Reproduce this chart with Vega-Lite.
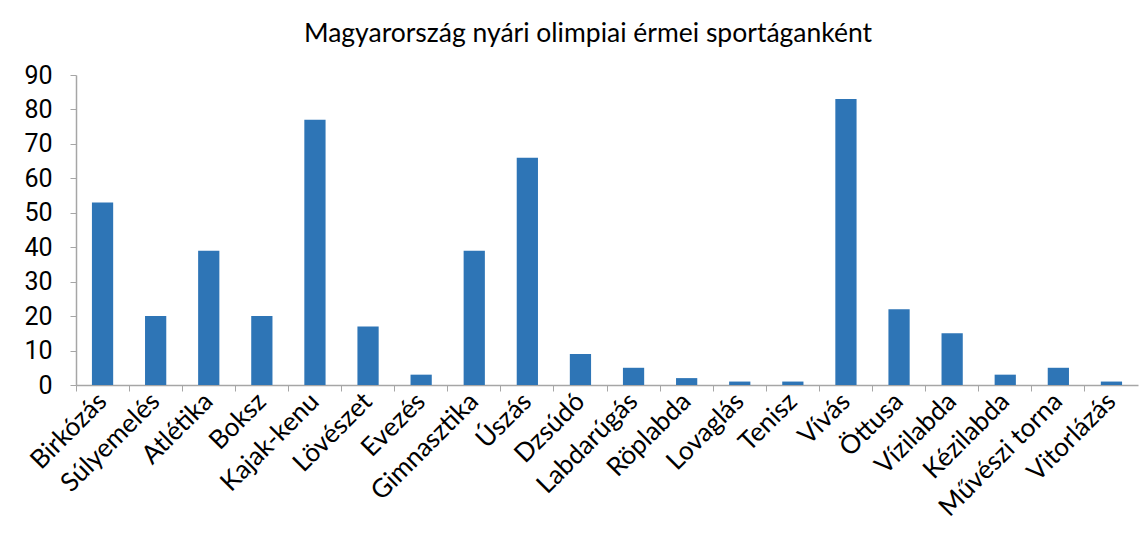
{
  "$schema": "https://vega.github.io/schema/vega-lite/v6.json",
  "autosize": "none",
  "width": 1062,
  "height": 310,
  "padding": {"left": 76, "top": 75, "right": 1, "bottom": 157},
  "background": "white",
  "title": {
    "text": "Magyarország nyári olimpiai érmei sportáganként",
    "font": "Lato",
    "fontSize": 26.5,
    "fontWeight": "normal",
    "color": "#000000",
    "anchor": "middle",
    "dx": -19,
    "offset": 16
  },
  "data": {
    "values": [
      {"sport": "Birkózás", "ermek": 53},
      {"sport": "Súlyemelés", "ermek": 20},
      {"sport": "Atlétika", "ermek": 39},
      {"sport": "Boksz", "ermek": 20},
      {"sport": "Kajak-kenu", "ermek": 77},
      {"sport": "Lövészet", "ermek": 17},
      {"sport": "Evezés", "ermek": 3},
      {"sport": "Gimnasztika", "ermek": 39},
      {"sport": "Úszás", "ermek": 66},
      {"sport": "Dzsúdó", "ermek": 9},
      {"sport": "Labdarúgás", "ermek": 5},
      {"sport": "Röplabda", "ermek": 2},
      {"sport": "Lovaglás", "ermek": 1},
      {"sport": "Tenisz", "ermek": 1},
      {"sport": "Vívás", "ermek": 83},
      {"sport": "Öttusa", "ermek": 22},
      {"sport": "Vízilabda", "ermek": 15},
      {"sport": "Kézilabda", "ermek": 3},
      {"sport": "Művészi torna", "ermek": 5},
      {"sport": "Vitorlázás", "ermek": 1}
    ]
  },
  "layer": [
    {
      "mark": {"type": "bar", "color": "#2E75B6"},
      "encoding": {
        "x": {
          "field": "sport",
          "type": "nominal",
          "sort": null,
          "scale": {"paddingInner": 0.6, "paddingOuter": 0.3},
          "axis": {
            "title": null,
            "orient": "bottom",
            "labelAngle": -45,
            "labelAlign": "right",
            "labelBaseline": "middle",
            "labelFont": "Lato",
            "labelFontSize": 26,
            "labelColor": "#000000",
            "labelPadding": 12,
            "labelOverlap": false,
            "labelLimit": 400,
            "ticks": false,
            "domainColor": "#A6A6A6",
            "domainWidth": 1.5
          }
        },
        "y": {
          "field": "ermek",
          "type": "quantitative",
          "scale": {"domain": [0, 90]},
          "axis": {
            "title": null,
            "values": [0, 10, 20, 30, 40, 50, 60, 70, 80, 90],
            "labelOverlap": false,
            "grid": false,
            "labelFont": "Roboto",
            "labelFontSize": 25,
            "labelColor": "#000000",
            "labelPadding": 18,
            "tickColor": "#A6A6A6",
            "tickSize": 6,
            "domainColor": "#A6A6A6",
            "domainWidth": 1.5
          }
        }
      }
    },
    {
      "mark": {"type": "bar", "opacity": 0},
      "encoding": {
        "x": {
          "field": "sport",
          "type": "nominal",
          "sort": null,
          "axis": {
            "title": null,
            "orient": "bottom",
            "labels": false,
            "domain": false,
            "ticks": true,
            "tickColor": "#A6A6A6",
            "tickSize": 6,
            "bandPosition": -0.75
          }
        },
        "y": {
          "field": "ermek",
          "type": "quantitative",
          "axis": {
            "title": null,
            "values": [0, 10, 20, 30, 40, 50, 60, 70, 80, 90],
            "labelOverlap": false,
            "grid": false,
            "labelFont": "Roboto",
            "labelFontSize": 25,
            "labelColor": "#000000",
            "labelPadding": 18,
            "tickColor": "#A6A6A6",
            "tickSize": 6,
            "domainColor": "#A6A6A6",
            "domainWidth": 1.5
          }
        }
      }
    }
  ],
  "resolve": {"axis": {"x": "independent"}},
  "config": {"view": {"stroke": null}}
}
